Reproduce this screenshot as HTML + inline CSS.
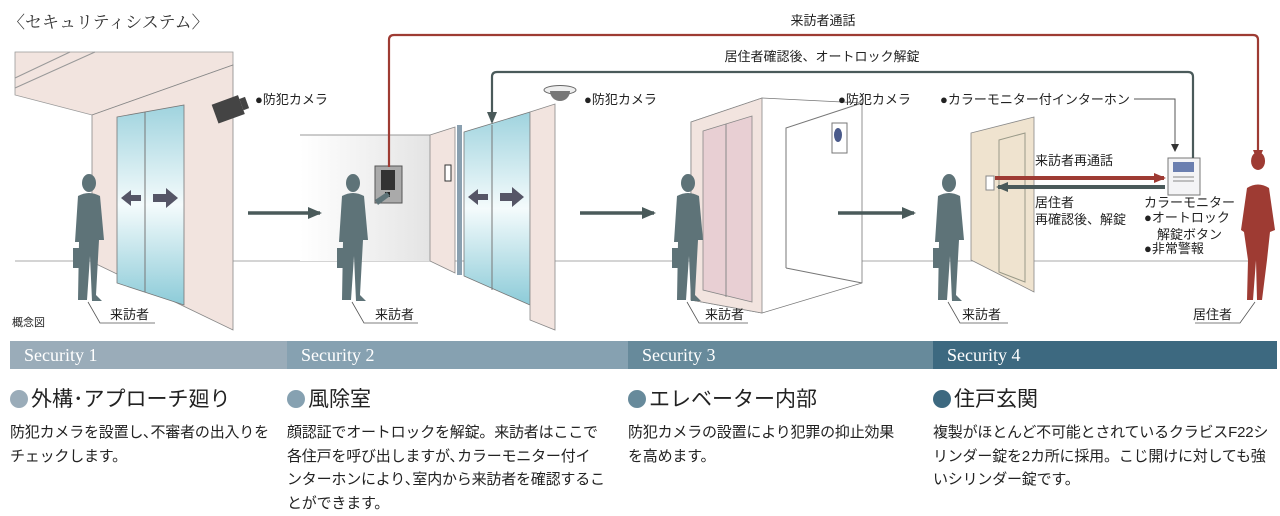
<!DOCTYPE html>
<html><head><meta charset="utf-8"><style>
body{margin:0;width:1280px;height:516px;background:#fff;overflow:hidden;font-family:"Liberation Sans","Noto Sans CJK JP",sans-serif;position:relative}
svg{position:absolute;left:0;top:0}
.bar{position:absolute;top:341px;height:28px;color:#fff;font-family:"Liberation Serif","Noto Serif CJK SC",serif;font-size:18px;line-height:28px;padding-left:14px;box-sizing:border-box}
.h{position:absolute;top:383px;font-size:21px;color:#222;white-space:nowrap}
.h i{display:inline-block;width:18px;height:18px;border-radius:50%;margin-right:3px;vertical-align:-2px}
.t{position:absolute;top:421px;font-size:15px;line-height:23.5px;color:#222;white-space:nowrap;letter-spacing:-0.2px}
</style></head><body>
<svg width="1280" height="516" viewBox="0 0 1280 516" font-family="Liberation Sans, Noto Sans CJK JP, sans-serif">
<defs>
<linearGradient id="gl" x1="0" y1="0" x2="0" y2="1"><stop offset="0" stop-color="#9fd3de"/><stop offset=".5" stop-color="#f4fbfc"/><stop offset="1" stop-color="#8ccbd8"/></linearGradient>
<linearGradient id="bw" x1="0" y1="0" x2="1" y2="0"><stop offset="0" stop-color="#fff"/><stop offset="1" stop-color="#e4e4e4"/></linearGradient>
<marker id="ar" markerUnits="userSpaceOnUse" markerWidth="12" markerHeight="10" refX="10" refY="5" orient="auto"><path d="M0,0L12,5L0,10z" fill="#9e3b33"/></marker>
<marker id="ag" markerUnits="userSpaceOnUse" markerWidth="12" markerHeight="10" refX="10" refY="5" orient="auto"><path d="M0,0L12,5L0,10z" fill="#4a5a5a"/></marker>
<marker id="ag2" markerUnits="userSpaceOnUse" markerWidth="14" markerHeight="12" refX="12" refY="6" orient="auto"><path d="M0,0L14,6L0,12z" fill="#4a5a5a"/></marker>
<marker id="at" markerUnits="userSpaceOnUse" markerWidth="8" markerHeight="8" refX="6" refY="4" orient="auto"><path d="M0,0L8,4L0,8z" fill="#333"/></marker>
</defs>
<text x="8" y="28" font-size="17" font-family="Liberation Serif, Noto Serif CJK JP, serif" fill="#333">〈セキュリティシステム〉</text>
<line x1="15" y1="261" x2="1260" y2="261" stroke="#aaa" stroke-width="1"/>
<!-- panel1 -->
<polygon points="15,52 233,52 233,65 92,115 15,95" fill="#f2e4df" stroke="#999" stroke-width=".8"/>
<line x1="15" y1="78" x2="70" y2="52" stroke="#999"/><line x1="15" y1="88" x2="95" y2="52" stroke="#999"/>
<polygon points="92,115 233,65 233,330 92,262" fill="#f2e4df" stroke="#888" stroke-width=".8"/>
<polygon points="117,117 184,105 184,305 117,283" fill="url(#gl)" stroke="#777" stroke-width=".8"/>
<line x1="145" y1="112" x2="145" y2="292" stroke="#777"/>
<path d="M121,198 l10,-8 v5 h10 v6 h-10 v5z" fill="#556"/><path d="M178,198 l-12,-10 v6 h-13 v8 h13 v6z" fill="#556"/>
<g transform="rotate(-20 232 108)"><rect x="214" y="98" width="28" height="20" fill="#444"/><rect x="242" y="102" width="6" height="12" fill="#444"/></g>
<text x="255" y="104" font-size="13" fill="#222">●防犯カメラ</text>
<!-- panel2 -->
<rect x="300" y="135" width="130" height="126" fill="url(#bw)"/>
<line x1="300" y1="135" x2="430" y2="135" stroke="#999"/>
<polygon points="430,135 455,127 455,273 430,261" fill="#f2e4df" stroke="#888" stroke-width=".8"/>
<rect x="445" y="165" width="6" height="16" fill="#fff" stroke="#333"/>
<rect x="457" y="125" width="5" height="150" fill="#8aa0b0"/>
<polygon points="464,132 530,112 530,305 464,276" fill="url(#gl)" stroke="#777" stroke-width=".8"/>
<line x1="492" y1="125" x2="492" y2="290" stroke="#777"/>
<path d="M468,197 l10,-8 v5 h10 v6 h-10 v5z" fill="#556"/><path d="M524,197 l-12,-10 v6 h-12 v8 h12 v6z" fill="#556"/>
<polygon points="530,112 555,104 555,330 530,320" fill="#f2e4df" stroke="#888" stroke-width=".8"/>
<ellipse cx="560" cy="90" rx="16" ry="4.5" fill="#eee" stroke="#666"/><path d="M550,91 a10,10 0 0 0 20,0z" fill="#777"/>
<text x="584" y="104" font-size="13" fill="#222">●防犯カメラ</text>
<rect x="375" y="166" width="27" height="37" fill="#aaa" stroke="#555"/><rect x="381" y="170" width="14" height="20" fill="#333"/><rect x="385" y="192" width="5" height="5" fill="#222"/>
<!-- panel3 -->
<polygon points="691,122 762,98 862,103 862,283 762,313 691,300" fill="#fff" stroke="#777" stroke-width=".8"/>
<polygon points="691,122 762,98 762,313 691,300" fill="#f2e4df" stroke="#888" stroke-width=".8"/>
<polygon points="703,131 752,116 752,302 703,290" fill="#e8cfd3" stroke="#888" stroke-width=".8"/>
<line x1="726" y1="124" x2="726" y2="297" stroke="#888"/>
<polyline points="786,268 786,128 862,103" fill="none" stroke="#777"/><line x1="786" y1="268" x2="862" y2="283" stroke="#777"/>
<rect x="832" y="123" width="15" height="30" fill="#fff" stroke="#777"/><ellipse cx="838" cy="135" rx="4" ry="7" fill="#4a5a8a"/>
<text x="838" y="104" font-size="13" fill="#222">●防犯カメラ</text>
<!-- panel4 -->
<polygon points="971,133 1034,117 1034,292 971,260" fill="#efe3cf" stroke="#888" stroke-width=".8"/>
<polygon points="999,140 1025,133 1025,282 999,272" fill="none" stroke="#998"/>
<rect x="986" y="176" width="8" height="14" fill="#fff" stroke="#888"/>
<text x="940" y="104" font-size="13" fill="#222">●カラーモニター付インターホン</text>
<polyline points="1134,99 1175,99 1175,150" fill="none" stroke="#555" marker-end="url(#at)"/>
<rect x="1168" y="158" width="32" height="37" fill="#f4f4f6" stroke="#777"/><rect x="1173" y="162" width="21" height="10" fill="#6b7fb0"/>
<line x1="1173" y1="177" x2="1194" y2="177" stroke="#888"/><line x1="1173" y1="181" x2="1194" y2="181" stroke="#888"/>
<line x1="995" y1="178" x2="1164" y2="178" stroke="#9e3b33" stroke-width="4" marker-end="url(#ar)"/>
<line x1="1165" y1="187" x2="998" y2="187" stroke="#4a5a5a" stroke-width="4" marker-end="url(#ag)"/>
<text x="1035" y="165" font-size="13" fill="#222">来訪者再通話</text>
<text x="1035" y="207" font-size="13" fill="#222">居住者</text>
<text x="1035" y="224" font-size="13" fill="#222">再確認後、解錠</text>
<text x="1144" y="207" font-size="13" fill="#222">カラーモニター</text>
<text x="1144" y="222" font-size="13" fill="#222">●オートロック</text>
<text x="1157" y="239" font-size="13" fill="#222">解錠ボタン</text>
<text x="1144" y="253" font-size="13" fill="#222">●非常警報</text>
<!-- top connectors -->
<path d="M389,167 V40 Q389,35 394,35 H1253 Q1258,35 1258,40 V160" fill="none" stroke="#9e3b33" stroke-width="2.2" marker-end="url(#ar)"/>
<path d="M1193,158 V77 Q1193,72 1188,72 H497 Q492,72 492,77 V122" fill="none" stroke="#4a5a5a" stroke-width="2.2" marker-end="url(#ag)"/>
<text x="823" y="25" font-size="13" text-anchor="middle" fill="#222">来訪者通話</text>
<text x="822" y="61" font-size="13" text-anchor="middle" fill="#222">居住者確認後、オートロック解錠</text>
<g stroke="#4a5a5a" stroke-width="3.5"><line x1="248" y1="213" x2="320" y2="213" marker-end="url(#ag2)"/><line x1="580" y1="213" x2="654" y2="213" marker-end="url(#ag2)"/><line x1="838" y1="213" x2="914" y2="213" marker-end="url(#ag2)"/></g>
<!-- people -->
<g fill="#5e7378">
<g id="p"><ellipse cx="89" cy="183" rx="7" ry="9"/><path d="M78,196 q11,-6 22,0 l4,44 l-5,0 l-3,55 l6,6 l-10,0 l-2,-45 l-3,44 l-9,0 l1,-58 l-4,0z"/><rect x="73" y="248" width="11" height="20"/></g>
<use href="#p" x="264"/><use href="#p" x="599"/><use href="#p" x="860"/>
<path d="M375,200 l12,-8 l3,4 l-12,9z"/>
</g>
<path fill="#9e3b33" d="M1258,170 a7,9 0 1 1 0.1,0z M1247,188 q11,-7 22,0 l6,42 l-5,2 l-3,28 l-5,40 l-5,0 l-1,-40 l-3,40 l-6,0 l1,-40 l-4,-28 l-3,-2z"/>
<g stroke="#555" fill="none" stroke-width=".8">
<polyline points="88,302 100,323 155,323"/><polyline points="352,302 364,323 418,323"/><polyline points="687,302 699,323 748,323"/><polyline points="948,302 960,323 1008,323"/><polyline points="1255,302 1240,323 1195,323"/>
</g>
<g font-size="13" fill="#222"><text x="110" y="319">来訪者</text><text x="375" y="319">来訪者</text><text x="705" y="319">来訪者</text><text x="962" y="319">来訪者</text><text x="1193" y="319">居住者</text><text x="12" y="326" font-size="11">概念図</text></g>
</svg>
<div class="bar" style="left:10px;width:277px;background:#9aacb9">Security 1</div>
<div class="bar" style="left:287px;width:341px;background:#86a1b1">Security 2</div>
<div class="bar" style="left:628px;width:305px;background:#678a9b">Security 3</div>
<div class="bar" style="left:933px;width:344px;background:#3d6980">Security 4</div>
<div class="h" style="left:10px"><i style="background:#9aacb9"></i>外構･アプローチ廻り</div>
<div class="h" style="left:287px"><i style="background:#86a1b1"></i>風除室</div>
<div class="h" style="left:628px"><i style="background:#678a9b"></i>エレベーター内部</div>
<div class="h" style="left:933px"><i style="background:#3d6980"></i>住戸玄関</div>
<div class="t" style="left:10px">防犯カメラを設置し､不審者の出入りを<br>チェックします。</div>
<div class="t" style="left:287px">顔認証でオートロックを解錠。来訪者はここで<br>各住戸を呼び出しますが､カラーモニター付イ<br>ンターホンにより､室内から来訪者を確認するこ<br>とができます。</div>
<div class="t" style="left:628px">防犯カメラの設置により犯罪の抑止効果<br>を高めます。</div>
<div class="t" style="left:933px">複製がほとんど不可能とされているクラビスF22シ<br>リンダー錠を2カ所に採用。こじ開けに対しても強<br>いシリンダー錠です。</div>
</body></html>
